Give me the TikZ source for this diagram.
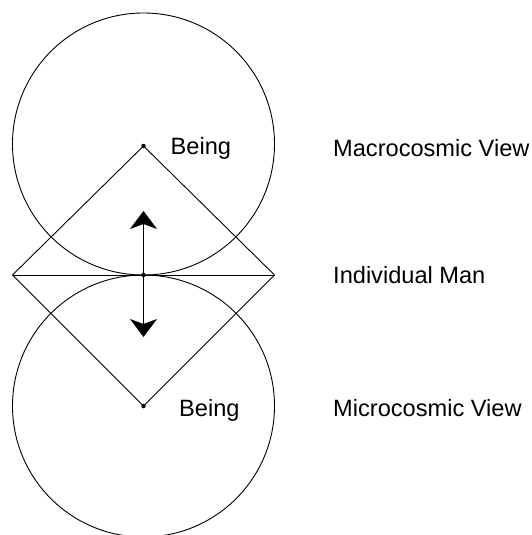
\documentclass[tikz,border=0pt]{standalone}
\usepackage{fontspec}
\setmainfont{Liberation Sans}
\usetikzlibrary{arrows.meta}
\begin{document}
\begin{tikzpicture}[x=1pt,y=-1pt,
  thinline/.style={line width=0.9pt, black},
  dotnode/.style={circle, fill=black, inner sep=0pt, minimum size=4.5pt},
  ring/.style={circle, draw, line width=0.9pt, inner sep=0pt, minimum size=262pt},
  lbl/.style={anchor=base west, inner sep=0pt, font=\fontsize{23.6}{28}\selectfont},
  bigarrow/.style={line width=1pt, -{Stealth[length=18pt, width=27pt, inset=5pt]}}]
\clip (0,0) rectangle (532,535);
\useasboundingbox (0,0) rectangle (532,535);
% circles
\node[ring] (cup) at (143.5,144) {};
\node[ring] (cdn) at (143.5,406) {};
% diamond points
\node[dotnode] (top) at (143.5,146) {};
\node[dotnode] (mid) at (143.5,275) {};
\node[dotnode] (bot) at (143.5,406) {};
\coordinate (left) at (12.5,275);
\coordinate (right) at (274.5,275);
\draw[thinline] (top.center) -- (right) -- (bot.center) -- (left) -- cycle;
\draw[thinline] (left) -- (right);
% arrows
\coordinate (aup) at (143.5,211);
\coordinate (adn) at (143.5,337);
\draw[bigarrow] (mid.center) -- (aup);
\draw[bigarrow] (mid.center) -- (adn);
% labels
\node[lbl] (being1) at (170.5,154) {Being};
\node[lbl] (being2) at (179,416.5) {Being};
\node[lbl] (macro) at (333,156) {Macrocosmic View};
\node[lbl] (indiv) at (333,283) {Individual Man};
\node[lbl] (micro) at (333,416.5) {Microcosmic View};
\end{tikzpicture}
\end{document}
